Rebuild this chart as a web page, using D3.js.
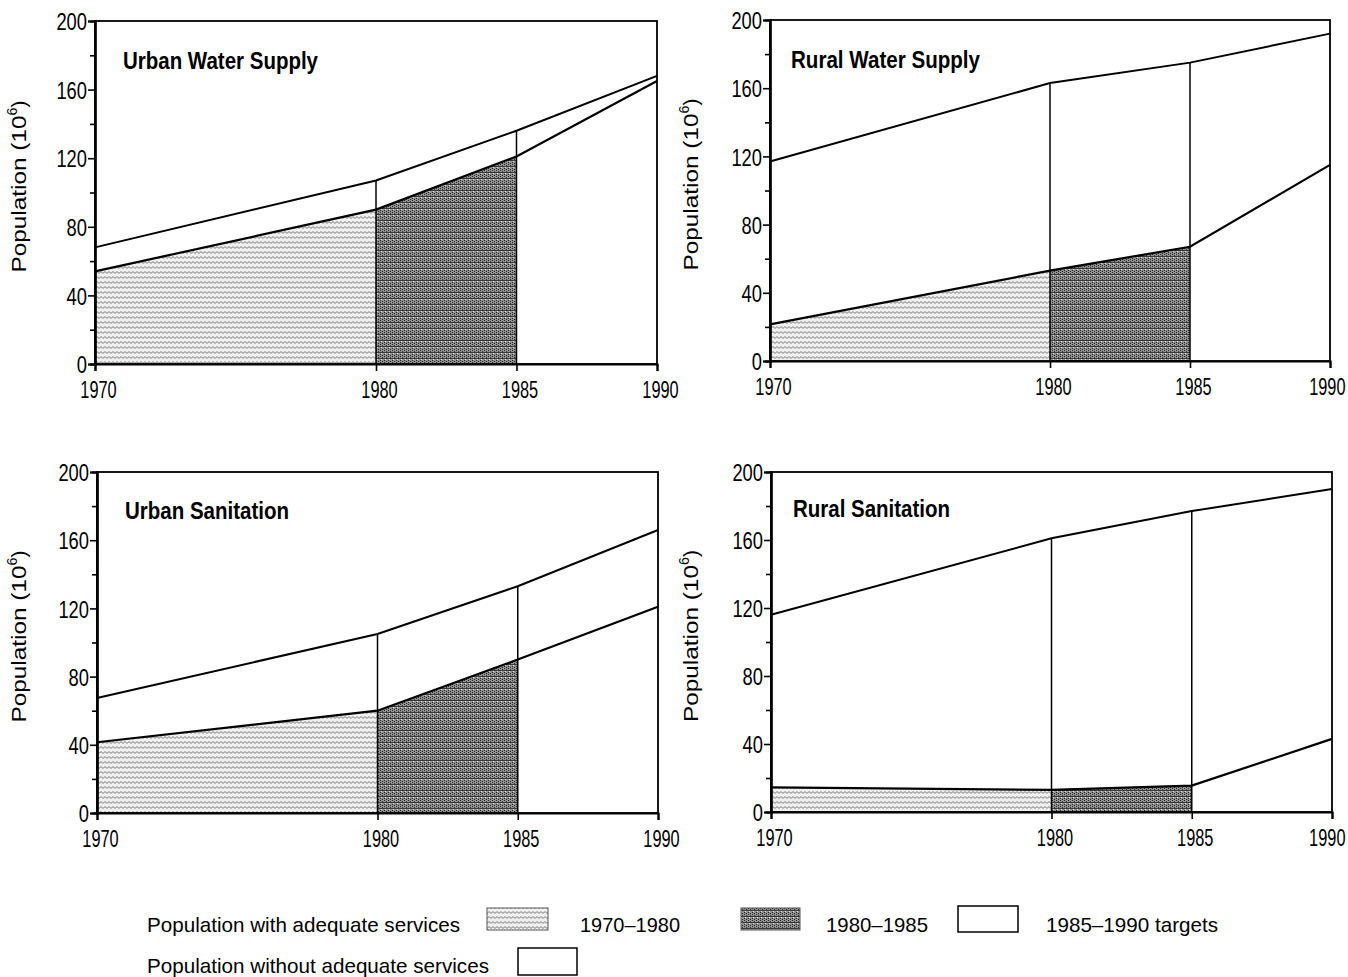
<!DOCTYPE html>
<html>
<head>
<meta charset="utf-8">
<script src="https://cdn.jsdelivr.net/npm/d3@7"></script>
<style>
  html, body { margin: 0; padding: 0; background: #fff; }
  svg { display: block; }
  .narrow { font-family: "Liberation Sans", Arial, Helvetica, sans-serif; }
</style>
</head>
<body>
<svg id="chart" width="1348" height="977"></svg>
<script>
// ---------------- DATA ----------------
const years = [1970, 1980, 1985, 1990];
const xTickLabels = ["1970", "1980", "1985", "1990"];
const yTicks = [0, 40, 80, 120, 160, 200];
const yMinorTicks = [20, 60, 100, 140, 180];

const panelTitles = ["Urban Water Supply", "Rural Water Supply", "Urban Sanitation", "Rural Sanitation"];

// total population (top line) and population with adequate services (lower line), millions
const urbanWaterTotal  = [68, 107, 136, 168];
const urbanWaterServed = [54, 90, 121, 165];
const ruralWaterTotal  = [117, 163, 175, 192];
const ruralWaterServed = [21.5, 53, 67, 115];
const urbanSanTotal    = [67.5, 105, 133, 166];
const urbanSanServed   = [41.5, 60, 90, 121];
const ruralSanTotal    = [116, 161, 177, 190];
const ruralSanServed   = [14.5, 13, 15.5, 43];

const yAxisLabel = "Population (10";
const yAxisSup = "6";

const legendWithLabel = "Population with adequate services";
const legendWithoutLabel = "Population without adequate services";
const legendPeriods = ["1970\u20131980", "1980\u20131985", "1985\u20131990 targets"];

// ---------------- LAYOUT ----------------
const totals = [urbanWaterTotal, ruralWaterTotal, urbanSanTotal, ruralSanTotal];
const served = [urbanWaterServed, ruralWaterServed, urbanSanServed, ruralSanServed];

const panelBoxes = [
  {x0: 95,  x1: 657,  y0: 21,  y1: 364, tx: 28, ty: 48, lx: 26},
  {x0: 770, x1: 1330, y0: 20,  y1: 361, tx: 21, ty: 48, lx: 698},
  {x0: 97,  x1: 658,  y0: 472, y1: 813, tx: 28, ty: 47, lx: 26},
  {x0: 771, x1: 1332, y0: 472, y1: 812, tx: 22, ty: 45, lx: 698}
];
const titleWidths = [195, 189, 164, 157];
const XDIGIT_W = 9.1;
const YDIGIT_W = 10.2;

const svg = d3.select("#chart");
const defs = svg.append("defs");

// light stipple pattern (1970-1980)
const pl = defs.append("pattern").attr("id", "light")
  .attr("patternUnits", "userSpaceOnUse").attr("width", 8).attr("height", 5);
pl.append("rect").attr("width", 8).attr("height", 5).attr("fill", "#f0f0f0");
pl.append("path").attr("d", "M0,2.5 q1,-1.8 2,0 t2,0 t2,0 t2,0")
  .attr("fill", "none").attr("stroke", "#6e6e6e").attr("stroke-width", 0.9);

// dark dense pattern (1980-1985)
const pd = defs.append("pattern").attr("id", "dark")
  .attr("patternUnits", "userSpaceOnUse").attr("width", 4).attr("height", 6);
pd.append("rect").attr("width", 4).attr("height", 6).attr("fill", "#929292");
pd.append("rect").attr("x", 0).attr("y", 0).attr("width", 1).attr("height", 1).attr("fill", "#222");
pd.append("rect").attr("x", 2).attr("y", 1).attr("width", 1).attr("height", 1).attr("fill", "#222");
pd.append("rect").attr("x", 0).attr("y", 2).attr("width", 1).attr("height", 1).attr("fill", "#222");
pd.append("rect").attr("x", 2).attr("y", 3).attr("width", 1).attr("height", 1).attr("fill", "#333");
pd.append("rect").attr("x", 0).attr("y", 4).attr("width", 4).attr("height", 1).attr("fill", "#3a3a3a");
pd.append("rect").attr("x", 1).attr("y", 5).attr("width", 1).attr("height", 1).attr("fill", "#ddd");

// horizontally condense a tick label with a scale transform (keeps its anchor point)
function squeeze(sel, w, dxFn) {
  sel.each(function (d) {
    const t = d3.select(this);
    const s = t.text();
    if (!s) return;
    const natural = this.getComputedTextLength();
    const sx = (s.length * w) / natural;
    const x0 = +t.attr("x") || 0;
    const dx = dxFn ? dxFn(d, s.length * w) : 0;
    t.attr("x", (x0 + dx) / sx).attr("transform", `scale(${sx},1)`);
  });
}

panelBoxes.forEach((b, i) => {
  const x = d3.scaleLinear().domain([years[0], years[years.length - 1]]).range([b.x0, b.x1]);
  const y = d3.scaleLinear().domain([0, 200]).range([b.y1, b.y0]);
  const g = svg.append("g");
  const tot = totals[i], srv = served[i];

  // filled areas of served population
  const area = d3.area().x(d => x(d.yr)).y0(y(0)).y1(d => y(d.v));
  const seg = (a, c) => [{yr: years[a], v: srv[a]}, {yr: years[c], v: srv[c]}];
  g.append("path").datum(seg(0, 1)).attr("d", area).attr("fill", "url(#light)");
  g.append("path").datum(seg(1, 2)).attr("d", area).attr("fill", "url(#dark)");

  // frame
  g.append("rect").attr("x", x(years[0])).attr("y", y(200))
    .attr("width", x(years[3]) - x(years[0])).attr("height", y(0) - y(200))
    .attr("fill", "none").attr("stroke", "#000").attr("stroke-width", 1.8);

  // vertical lines at 1980 and 1985
  [1, 2].forEach(k => {
    g.append("line").attr("x1", x(years[k])).attr("x2", x(years[k]))
      .attr("y1", y(0)).attr("y2", y(tot[k]))
      .attr("stroke", "#000").attr("stroke-width", 1.5);
  });

  const line = d3.line().x((d, j) => x(years[j])).y(d => y(d));
  g.append("path").datum(tot).attr("d", line).attr("fill", "none")
    .attr("stroke", "#000").attr("stroke-width", 2);
  g.append("path").datum(srv).attr("d", line).attr("fill", "none")
    .attr("stroke", "#000").attr("stroke-width", 2.2);

  // axes
  const ya = g.append("g").attr("transform", `translate(${b.x0},0)`)
    .call(d3.axisLeft(y).tickValues(yTicks).tickSize(7).tickPadding(1));
  const ym = g.append("g").attr("transform", `translate(${b.x0},0)`)
    .call(d3.axisLeft(y).tickValues(yMinorTicks).tickSize(5).tickFormat(""));
  const xa = g.append("g").attr("transform", `translate(0,${b.y1})`)
    .call(d3.axisBottom(x).tickValues(years).tickFormat((d, j) => xTickLabels[j]).tickSize(7).tickPadding(10));
  [ya, ym, xa].forEach(a => {
    a.select(".domain").attr("stroke-width", 2.2);
    a.selectAll(".tick line").attr("stroke-width", 1.6);
    a.selectAll("text").attr("class", "narrow").attr("font-size", 24).attr("fill", "#000");
  });
  ya.selectAll("text").attr("dy", "0.36em");
  const rightEdge = 1345;
  squeeze(ya.selectAll("text"), YDIGIT_W, null);
  squeeze(xa.selectAll("text"), XDIGIT_W, (d, w) => Math.min(3, rightEdge - (x(d) + w / 2)));

  // title
  g.append("text").attr("class", "narrow")
    .attr("x", b.x0 + b.tx).attr("y", b.y0 + b.ty)
    .attr("font-size", 23).attr("font-weight", "bold")
    .attr("textLength", titleWidths[i]).attr("lengthAdjust", "spacingAndGlyphs")
    .text(panelTitles[i]);

  // y label
  const yl = g.append("text").attr("class", "narrow")
    .attr("text-anchor", "start").attr("font-size", 21)
    .attr("transform", `translate(${b.lx},${(b.y0 + b.y1) / 2 + 80}) rotate(-90)`);
  yl.append("tspan").attr("textLength", 157).attr("lengthAdjust", "spacingAndGlyphs").text(yAxisLabel);
  yl.append("tspan").attr("font-size", 14).attr("dy", -9).attr("textLength", 8)
    .attr("lengthAdjust", "spacingAndGlyphs").text(yAxisSup);
  yl.append("tspan").attr("dy", 9).attr("textLength", 7)
    .attr("lengthAdjust", "spacingAndGlyphs").text(")");
});

// ---------------- LEGEND ----------------
const lg = svg.append("g").attr("class", "narrow").attr("font-size", 21);
lg.append("text").attr("x", 147).attr("y", 932).attr("textLength", 313)
  .attr("lengthAdjust", "spacingAndGlyphs").text(legendWithLabel);
lg.append("rect").attr("x", 487).attr("y", 908).attr("width", 61).attr("height", 22)
  .attr("fill", "url(#light)").attr("stroke", "#555").attr("stroke-width", 1);
lg.append("text").attr("x", 580).attr("y", 932).attr("textLength", 100)
  .attr("lengthAdjust", "spacingAndGlyphs").text(legendPeriods[0]);
lg.append("rect").attr("x", 741).attr("y", 908).attr("width", 59).attr("height", 22)
  .attr("fill", "url(#dark)").attr("stroke", "#555").attr("stroke-width", 1);
lg.append("text").attr("x", 826).attr("y", 932).attr("textLength", 102)
  .attr("lengthAdjust", "spacingAndGlyphs").text(legendPeriods[1]);
lg.append("rect").attr("x", 958).attr("y", 906).attr("width", 60).attr("height", 26)
  .attr("fill", "#fff").attr("stroke", "#000").attr("stroke-width", 1.5);
lg.append("text").attr("x", 1046).attr("y", 932).attr("textLength", 172)
  .attr("lengthAdjust", "spacingAndGlyphs").text(legendPeriods[2]);
lg.append("text").attr("x", 147).attr("y", 973).attr("textLength", 342)
  .attr("lengthAdjust", "spacingAndGlyphs").text(legendWithoutLabel);
lg.append("rect").attr("x", 518).attr("y", 948).attr("width", 59).attr("height", 27)
  .attr("fill", "#fff").attr("stroke", "#000").attr("stroke-width", 1.5);
</script>
</body>
</html>
